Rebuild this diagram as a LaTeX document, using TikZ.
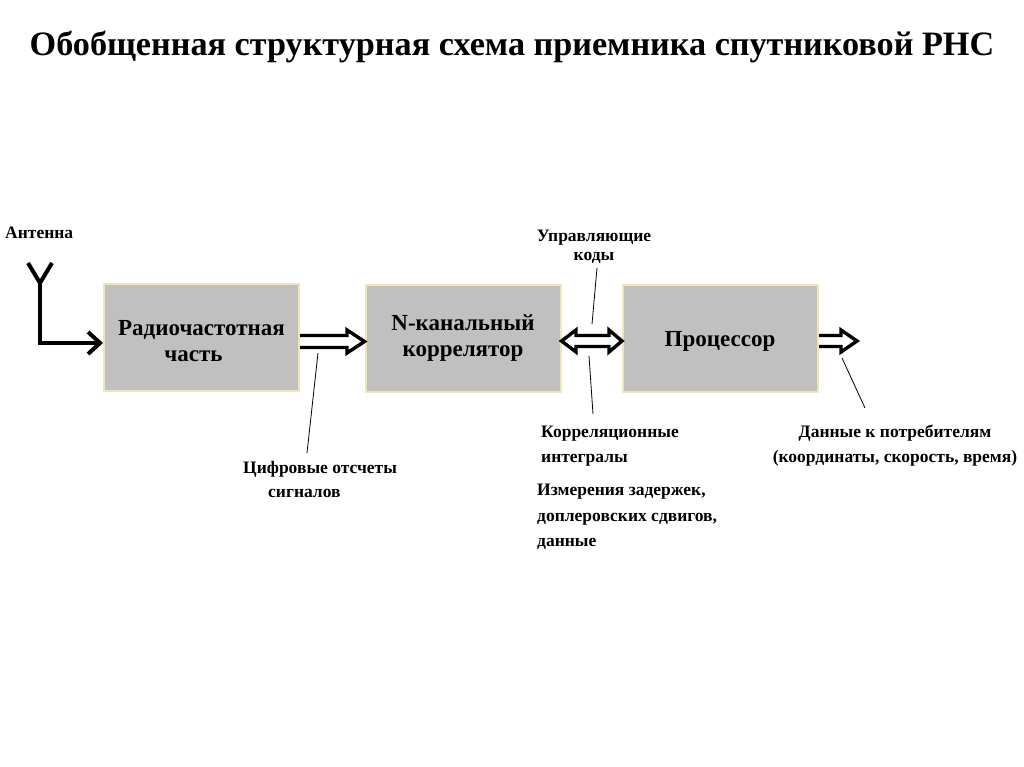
\documentclass[tikz,border=0pt]{standalone}
\usepackage{fontspec}
\setmainfont{Liberation Serif}
\usetikzlibrary{arrows.meta}
\definecolor{boxfill}{HTML}{C0C0C0}
\definecolor{boxedge}{HTML}{EFE6B8}
\begin{document}
\begin{tikzpicture}[x=1pt,y=-1pt,
  blk/.style={draw=boxedge, line width=2pt, fill=boxfill, minimum width=195pt, minimum height=107pt, inner sep=0pt,
    font=\fontsize{23}{26}\selectfont\bfseries, align=center},
  lbl/.style={font=\fontsize{17.5}{25}\selectfont\bfseries, inner sep=0pt},
  hollow/.style={draw=black, fill=white, line width=3.4pt, line join=miter, miter limit=4},
  callout/.style={line width=0.8pt, black}]
\useasboundingbox (0,0) rectangle (1024,767);
\node[font=\fontsize{34.2}{38}\selectfont\bfseries, inner sep=0pt] (title) at (512,47) {Обобщенная структурная схема приемника спутниковой РНС};

\node[blk] (rf) at (201.5,337.5) {};
\node[blk] (corr) at (463,338.5) {N-канальный\\коррелятор};
\node[blk] (proc) at (720.5,338.5) {};
\node[font=\fontsize{23}{26}\selectfont\bfseries, align=center, inner sep=0pt] (rft) at (201.5,341) {Радиочастотная\\часть\hspace*{16pt}};
\node[font=\fontsize{23}{26}\selectfont\bfseries, inner sep=0pt] (proct) at (720,341) {Процессор};

% antenna
\node[lbl, anchor=west] (ant) at (5,233) {Антенна};
\coordinate (ytop) at (40,283);
\coordinate (yl) at (28,263);
\coordinate (yr) at (52,263);
\coordinate (corner) at (40,343);
\draw[line width=4pt, line join=miter] (yl) -- (ytop) -- (yr);
\draw[line width=4pt, -{Straight Barb[length=12pt,width=22pt,line width=4pt]}] (ytop) -- (corner) -- (rf.west|-corner);

% hollow block arrows
\draw[hollow] (rf.east|-0,335.5) -- (347,335.5) -- (347,330) -- (corr.west|-0,341.5) -- (347,353) -- (347,347.5) -- (rf.east|-0,347.5);
\draw[hollow] (corr.east|-0,341) -- (576,330) -- (576,335.5) -- (609,335.5) -- (609,330) -- (proc.west|-0,341) -- (609,352) -- (609,346.5) -- (576,346.5) -- (576,352) -- cycle;
\coordinate (outend) at (857,341);
\draw[hollow] (proc.east|-0,335.5) -- (841,335.5) -- (841,330) -- (outend) -- (841,352) -- (841,346.5) -- (proc.east|-0,346.5);

% labels
\node[lbl, align=left, anchor=north west, font=\fontsize{17.5}{24}\selectfont\bfseries] (dig) at (243,461) {Цифровые отсчеты\\\hspace*{25pt}сигналов};
\node[lbl, align=center, font=\fontsize{17.5}{19.5}\selectfont\bfseries] (ctrl) at (594,247) {Управляющие\\коды};
\node[lbl, align=left, anchor=north west] (cint) at (541,426) {Корреляционные\\интегралы};
\node[lbl, align=left, anchor=north west, font=\fontsize{17.5}{25.5}\selectfont\bfseries] (meas) at (537,484) {Измерения задержек,\\доплеровских сдвигов,\\данные};
\node[lbl, align=center] (data) at (895,446) {Данные к потребителям\\(координаты, скорость, время)};

% callouts
\coordinate (c1a) at (318,353);
\coordinate (c1b) at (307,453);
\draw[callout] (c1a) -- (c1b);
\coordinate (c2a) at (597,268);
\coordinate (c2b) at (592,324);
\draw[callout] (c2a) -- (c2b);
\coordinate (c3a) at (589,356);
\coordinate (c3b) at (593,414);
\draw[callout] (c3a) -- (c3b);
\coordinate (c4a) at (842,358);
\coordinate (c4b) at (865,408);
\draw[callout] (c4a) -- (c4b);
\end{tikzpicture}
\end{document}
